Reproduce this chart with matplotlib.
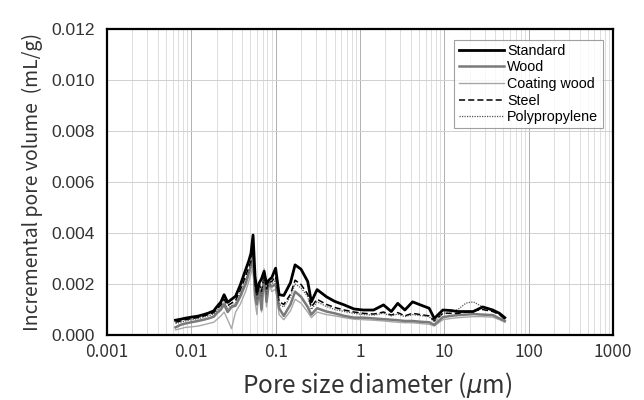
import matplotlib
matplotlib.use("Agg")
import matplotlib.pyplot as plt
from matplotlib.ticker import FixedLocator, LogLocator, NullFormatter

# Pore diameters (um) shared by all five mixes
diameter = [0.0065, 0.0075, 0.0085, 0.010, 0.012, 0.014, 0.016, 0.0185, 0.020,
            0.0225, 0.0245, 0.027, 0.030, 0.0335, 0.038, 0.044, 0.048, 0.051,
            0.054, 0.057, 0.060, 0.064, 0.068, 0.073, 0.078, 0.083, 0.090,
            0.100, 0.110, 0.125, 0.150, 0.170, 0.200, 0.240, 0.265, 0.310,
            0.400, 0.500, 0.650, 0.850, 1.10, 1.45, 1.90, 2.35, 2.80, 3.40,
            4.20, 5.20, 6.60, 7.60, 9.60, 12.0, 14.5, 18.0, 22.0, 28.5, 37.5,
            45.0, 52.0]

standard = [0.00058, 0.00062, 0.00066, 0.00070, 0.00074, 0.00080, 0.00086,
            0.00095, 0.00110, 0.00130, 0.00158, 0.00128, 0.00140, 0.00152,
            0.00195, 0.00255, 0.00290, 0.00320, 0.00392, 0.00230, 0.00170,
            0.00205, 0.00220, 0.00250, 0.00200, 0.00215, 0.00225, 0.00262,
            0.00158, 0.00155, 0.00205, 0.00275, 0.00258, 0.00210, 0.00130,
            0.00178, 0.00150, 0.00132, 0.00118, 0.00102, 0.00098, 0.00098,
            0.00118, 0.00092, 0.00124, 0.00098, 0.00130, 0.00118, 0.00105,
            0.00065, 0.00098, 0.00096, 0.00092, 0.00092, 0.00092, 0.00110,
            0.00098, 0.00085, 0.00068]

wood = [0.00030, 0.00040, 0.00045, 0.00050, 0.00055, 0.00060, 0.00065,
        0.00072, 0.00085, 0.00100, 0.00120, 0.00090, 0.00110, 0.00115,
        0.00150, 0.00200, 0.00240, 0.00270, 0.00310, 0.00150, 0.00120,
        0.00180, 0.00100, 0.00240, 0.00130, 0.00200, 0.00190, 0.00200,
        0.00105, 0.00075, 0.00120, 0.00170, 0.00150, 0.00110, 0.00080,
        0.00105, 0.00092, 0.00085, 0.00075, 0.00068, 0.00068, 0.00065,
        0.00062, 0.00060, 0.00058, 0.00055, 0.00055, 0.00052, 0.00050,
        0.00040, 0.00070, 0.00075, 0.00078, 0.00080, 0.00082, 0.00080,
        0.00078, 0.00065, 0.00055]

coating_wood = [0.00020, 0.00025, 0.00030, 0.00032, 0.00035, 0.00040, 0.00045,
                0.00050, 0.00060, 0.00075, 0.00090, 0.00060, 0.00025, 0.00090,
                0.00120, 0.00170, 0.00210, 0.00240, 0.00270, 0.00130, 0.00080,
                0.00200, 0.00090, 0.00260, 0.00110, 0.00210, 0.00170, 0.00180,
                0.00080, 0.00060, 0.00095, 0.00140, 0.00125, 0.00090, 0.00068,
                0.00090, 0.00080, 0.00075, 0.00068, 0.00062, 0.00060, 0.00058,
                0.00055, 0.00052, 0.00050, 0.00048, 0.00048, 0.00045, 0.00042,
                0.00035, 0.00060, 0.00065, 0.00068, 0.00070, 0.00072, 0.00072,
                0.00070, 0.00060, 0.00050]

steel = [0.00050, 0.00055, 0.00060, 0.00064, 0.00068, 0.00074, 0.00080,
         0.00088, 0.00100, 0.00118, 0.00140, 0.00115, 0.00125, 0.00135,
         0.00175, 0.00230, 0.00265, 0.00290, 0.00330, 0.00200, 0.00150,
         0.00200, 0.00170, 0.00230, 0.00180, 0.00205, 0.00210, 0.00230,
         0.00130, 0.00120, 0.00160, 0.00215, 0.00198, 0.00160, 0.00110,
         0.00140, 0.00120, 0.00108, 0.00098, 0.00090, 0.00085, 0.00082,
         0.00090, 0.00078, 0.00088, 0.00075, 0.00085, 0.00080, 0.00075,
         0.00055, 0.00085, 0.00085, 0.00085, 0.00090, 0.00095, 0.00100,
         0.00092, 0.00080, 0.00062]

polypropylene = [0.00045, 0.00050, 0.00055, 0.00060, 0.00064, 0.00070, 0.00075,
                 0.00082, 0.00095, 0.00110, 0.00130, 0.00105, 0.00115, 0.00125,
                 0.00165, 0.00215, 0.00250, 0.00275, 0.00310, 0.00180, 0.00140,
                 0.00190, 0.00150, 0.00220, 0.00160, 0.00200, 0.00200, 0.00215,
                 0.00120, 0.00110, 0.00150, 0.00200, 0.00185, 0.00150, 0.00100,
                 0.00130, 0.00112, 0.00100, 0.00092, 0.00085, 0.00080, 0.00078,
                 0.00085, 0.00075, 0.00082, 0.00072, 0.00080, 0.00076, 0.00072,
                 0.00052, 0.00085, 0.00090, 0.00100, 0.00125, 0.00130, 0.00110,
                 0.00095, 0.00082, 0.00062]

y_ticks = [0.000, 0.002, 0.004, 0.006, 0.008, 0.010, 0.012]
x_ticks = [0.001, 0.01, 0.1, 1, 10, 100, 1000]
x_tick_labels = ["0.001", "0.01", "0.1", "1", "10", "100", "1000"]

plt.rcParams["font.family"] = ["Liberation Sans", "DejaVu Sans"]
KR_FONT = ["Noto Sans CJK KR", "DejaVu Sans"]

fig = plt.figure(figsize=(6.44, 4.0), dpi=100)
ax = fig.add_axes([0.166, 0.1625, 0.786, 0.765])

ax.plot(diameter, standard, color="black", lw=2.0, label="Standard", zorder=6)
ax.plot(diameter, wood, color="#7a7a7a", lw=1.8, label="Wood", zorder=4)
ax.plot(diameter, coating_wood, color="#a8a8a8", lw=1.0,
        label="Coating wood", zorder=3)
ax.plot(diameter, steel, color="black", lw=1.1, ls=(0, (4, 2)),
        label="Steel", zorder=5)
ax.plot(diameter, polypropylene, color="#555555", lw=0.9, ls=(0, (1, 1)),
        label="Polypropylene", zorder=5)

ax.set_xscale("log")
ax.set_xlim(0.001, 1000)
ax.set_ylim(0, 0.012)
ax.xaxis.set_major_locator(FixedLocator(x_ticks))
ax.set_xticklabels(x_tick_labels, family=KR_FONT)
ax.xaxis.set_minor_locator(LogLocator(base=10, subs=range(2, 10), numticks=20))
ax.xaxis.set_minor_formatter(NullFormatter())
ax.set_yticks(y_ticks)
ax.set_yticklabels([f"{v:.3f}" for v in y_ticks])

ax.grid(axis="x", which="major", color="#b0b0b0", lw=0.7)
ax.grid(axis="x", which="minor", color="#d8d8d8", lw=0.6)
ax.grid(axis="y", which="major", color="#d0d0d0", lw=0.7)
ax.set_axisbelow(True)

ax.tick_params(axis="both", which="both", length=0, labelsize=12.5,
               colors="#333333")
ax.tick_params(axis="y", pad=9)
ax.tick_params(axis="x", pad=6)
for side in ("top", "right", "left", "bottom"):
    ax.spines[side].set_linewidth(1.6)
    ax.spines[side].set_color("black")

ax.set_xlabel("Pore size diameter ($\\mu$m)", fontsize=17.5, color="#333333",
              family=KR_FONT, labelpad=6, x=0.534)
ax.set_ylabel("Incremental pore volume  (mL/g)", fontsize=14,
              color="#333333", family=KR_FONT, labelpad=6)

leg = ax.legend(loc="upper right", bbox_to_anchor=(0.985, 0.975),
                fontsize=10.3, frameon=True, fancybox=False, shadow=False,
                handlelength=3.2, handletextpad=0.2, labelspacing=0.18,
                borderpad=0.3, borderaxespad=0.2)
leg.get_frame().set_edgecolor("#888888")
leg.get_frame().set_linewidth(0.8)

fig.savefig("out.png", dpi=100, facecolor="white")
